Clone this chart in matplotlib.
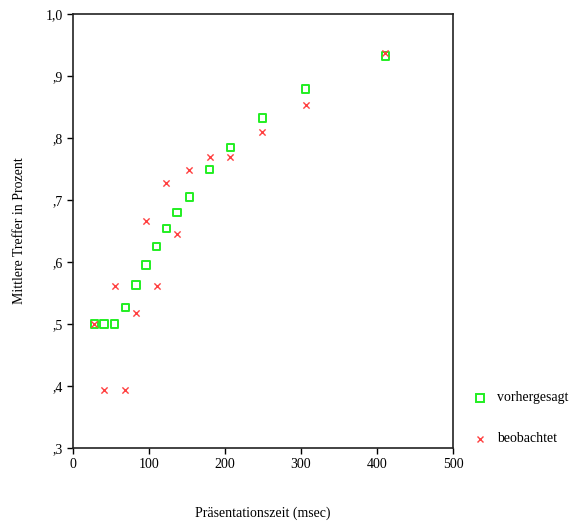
import matplotlib
matplotlib.use("Agg")
import matplotlib.pyplot as plt
from matplotlib.ticker import FixedLocator, FuncFormatter

# Presentation times (ms) and mean hit rates
zeit = [28, 41, 55, 69, 83, 96, 110, 123, 137, 153, 180, 207, 249, 306, 411]
vorhergesagt = [0.500, 0.500, 0.500, 0.527, 0.563, 0.595, 0.625, 0.654,
                0.680, 0.705, 0.749, 0.785, 0.832, 0.879, 0.932]
beobachtet = [0.500, 0.394, 0.562, 0.394, 0.518, 0.666, 0.562, 0.727,
              0.645, 0.748, 0.769, 0.769, 0.810, 0.854, 0.937]

plt.rcParams["font.family"] = ["Liberation Serif", "DejaVu Serif"]

fig = plt.figure(figsize=(5.79, 5.25), dpi=100)
ax = fig.add_axes([73 / 579, 77 / 525, 380 / 579, 434 / 525])

ax.scatter(zeit, vorhergesagt, marker="s", s=28, facecolors="none",
           edgecolors="#22ee22", linewidths=1.4, zorder=2)
ax.scatter(zeit, beobachtet, marker="x", s=20, color="#ff4040",
           linewidths=1.0, zorder=3)

ax.set_xlim(0, 500)
ax.set_ylim(0.3, 1.0)
ax.xaxis.set_major_locator(FixedLocator([0, 100, 200, 300, 400, 500]))
ax.yaxis.set_major_locator(FixedLocator([0.3, 0.4, 0.5, 0.6, 0.7, 0.8, 0.9, 1.0]))


def komma(v, pos):
    if abs(v - 1.0) < 1e-9:
        return "1,0"
    return ("%.1f" % v)[1:].replace(".", ",")


ax.yaxis.set_major_formatter(FuncFormatter(komma))
ax.tick_params(direction="out", length=4, width=1, labelsize=10, colors="black")
for s in ax.spines.values():
    s.set_linewidth(1.2)
    s.set_color("#222222")

ax.set_xlabel("Präsentationszeit (msec)", fontsize=10, labelpad=25)
ax.set_ylabel("Mittlere Treffer in Prozent", fontsize=10, labelpad=14)

# legend placed outside the axes on the right
fig.lines.append(plt.Line2D([480 / 579], [1 - 398 / 525], marker="s",
                            markersize=6, markerfacecolor="none",
                            markeredgecolor="#22ee22", markeredgewidth=1.4,
                            transform=fig.transFigure))
fig.lines.append(plt.Line2D([480 / 579], [1 - 439 / 525], marker="x",
                            markersize=5, color="#ff4040", markeredgewidth=1.0,
                            transform=fig.transFigure))
fig.text(497 / 579, 1 - 398 / 525, "vorhergesagt", fontsize=10, va="center")
fig.text(497 / 579, 1 - 439 / 525, "beobachtet", fontsize=10, va="center")

fig.savefig("out.png", dpi=100)
